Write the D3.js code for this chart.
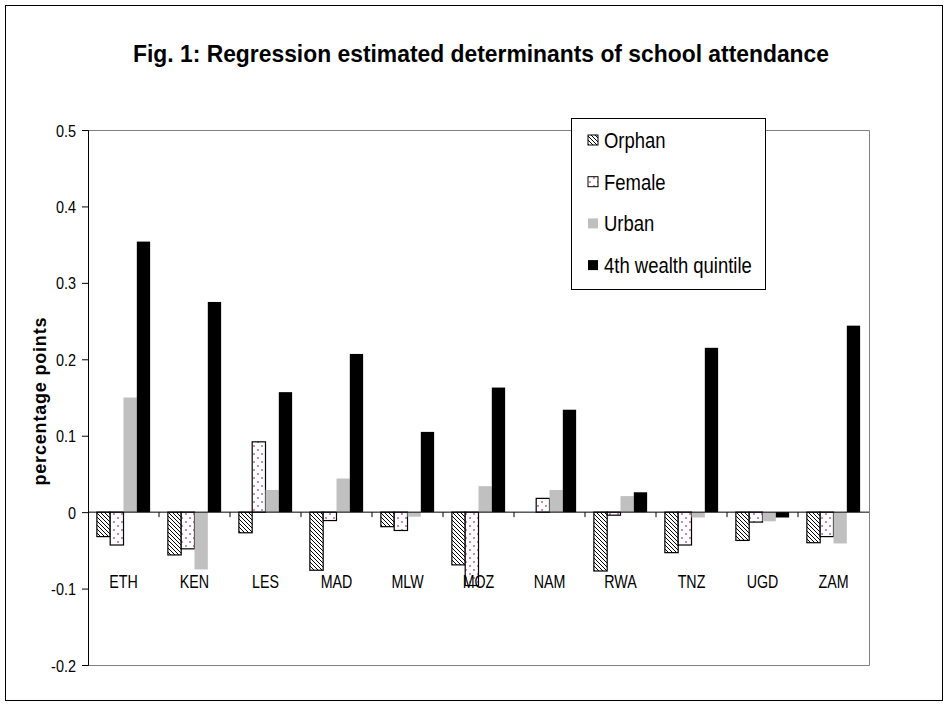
<!DOCTYPE html>
<html><head><meta charset="utf-8">
<script src="https://cdn.jsdelivr.net/npm/d3@7"></script>
<style>body{margin:0;background:#fff;} text{font-family:"Liberation Sans",Arial,sans-serif;}</style>
</head><body>
<svg id="chart" width="948" height="707"></svg>
<script>
const categories = ["ETH","KEN","LES","MAD","MLW","MOZ","NAM","RWA","TNZ","UGD","ZAM"];
const seriesNames = ["Orphan","Female","Urban","4th wealth quintile"];
const orphan = [-0.032,-0.056,-0.027,-0.076,-0.019,-0.069,0.0,-0.077,-0.053,-0.037,-0.040];
const female = [-0.043,-0.048,0.092,-0.011,-0.024,-0.096,0.018,-0.004,-0.043,-0.013,-0.032];
const urban  = [0.150,-0.075,0.029,0.044,-0.006,0.034,0.029,0.021,-0.007,-0.012,-0.041];
const wealth = [0.354,0.275,0.157,0.207,0.105,0.163,0.134,0.026,0.215,-0.007,0.244];
const yTicks = [0.5,0.4,0.3,0.2,0.1,0,-0.1,-0.2];
const yTickLabels = ["0.5","0.4","0.3","0.2","0.1","0","-0.1","-0.2"];
const title = "Fig. 1: Regression estimated determinants of school attendance";
const yLabel = "percentage points";

const svg = d3.select("#chart");
const L = 88, R = 869, T = 130, B = 665;

const defs = svg.append("defs");
const hatch = defs.append("pattern").attr("id","hatch").attr("patternUnits","userSpaceOnUse")
  .attr("width",4).attr("height",4);
hatch.append("rect").attr("width",4).attr("height",4).attr("fill","#fff");
hatch.append("path").attr("d","M-1,-1 L5,5 M-1,3 L1,5 M3,-1 L5,1").attr("stroke","#000").attr("stroke-width",1);
const dots = defs.append("pattern").attr("id","dots").attr("patternUnits","userSpaceOnUse")
  .attr("width",8).attr("height",8);
dots.append("rect").attr("width",8).attr("height",8).attr("fill","#fff");
dots.append("circle").attr("cx",2).attr("cy",2).attr("r",0.9).attr("fill","#c0508a");
dots.append("circle").attr("cx",6).attr("cy",6).attr("r",0.9).attr("fill","#c0508a");

const styles = [
  {fill:"url(#hatch)", stroke:"#000"},
  {fill:"url(#dots)", stroke:"#000"},
  {fill:"#c0c0c0", stroke:"none"},
  {fill:"#000", stroke:"none"}
];
const seriesData = [orphan, female, urban, wealth];

// outer border
svg.append("rect").attr("x",5.5).attr("y",5.5).attr("width",937).attr("height",695)
  .attr("fill","#fff").attr("stroke","#000").attr("stroke-width",1);

svg.append("text").attr("x",(133+829)/2).attr("y",62).attr("text-anchor","middle")
  .attr("font-size",24).attr("font-weight","bold").attr("textLength",696)
  .attr("lengthAdjust","spacingAndGlyphs").text(title);

const x = d3.scaleBand().domain(categories).range([L,R]).paddingInner(0.25).paddingOuter(0.125);
const xs = d3.scaleBand().domain(seriesNames).range([0,x.bandwidth()]);
const y = d3.scaleLinear().domain([-0.2,0.5]).range([B,T]);

// plot area border (gray)
svg.append("path").attr("d",`M${L},${T+0.5}H${R+0.5}V${B+0.5}H${L}`).attr("fill","none").attr("stroke","#808080");

// bars
seriesData.forEach((vals,si)=>{
  svg.append("g").selectAll("rect").data(categories).join("rect")
    .attr("x",(c)=>x(c)+xs(seriesNames[si]))
    .attr("width",xs.bandwidth())
    .attr("y",(c,i)=>y(Math.max(0,vals[i])))
    .attr("height",(c,i)=>Math.abs(y(vals[i])-y(0)))
    .attr("fill",styles[si].fill)
    .attr("stroke",styles[si].stroke).attr("stroke-width",1.2);
});

// y axis
const yAxis = d3.axisLeft(y).tickValues(yTicks).tickSize(6).tickPadding(6)
  .tickFormat((d,i)=>yTickLabels[i]);
const ga = svg.append("g").attr("transform",`translate(${L},0)`).call(yAxis);
ga.select(".domain").attr("stroke","#000");
ga.selectAll(".tick line").attr("stroke","#000");
ga.selectAll(".tick text").each(function(){
  const t = d3.select(this);
  const xx = +t.attr("x");
  t.attr("x",null).attr("dy",null)
   .attr("transform",`translate(${xx},6) scale(0.85,1)`)
   .attr("font-size",17).attr("font-family","Liberation Sans, Arial").attr("fill","#000");
});

// zero axis with category ticks
const gx = svg.append("g").attr("transform",`translate(0,${y(0)})`);
gx.append("line").attr("x1",L).attr("x2",R).attr("stroke","#000");
const bounds = categories.map((c)=>x(c)-x.step()*x.paddingInner()/2 + x.step());
gx.selectAll("line.tk").data(bounds.slice(0,-1)).join("line").attr("class","tk")
  .attr("x1",d=>d).attr("x2",d=>d).attr("y1",0).attr("y2",5).attr("stroke","#000");
gx.selectAll("text").data(categories).join("text")
  .attr("transform",c=>`translate(${x(c)+x.bandwidth()/2},76) scale(0.75,1)`)
  .attr("text-anchor","middle").attr("font-size",19).text(c=>c);

// y label
svg.append("text").attr("transform",`translate(46,${(T+B)/2 + 4}) rotate(-90)`)
  .attr("text-anchor","middle").attr("font-size",18).attr("font-weight","bold")
  .attr("textLength",168).attr("lengthAdjust","spacing").text(yLabel);

// legend
const lg = svg.append("g");
lg.append("rect").attr("x",571.5).attr("y",118.5).attr("width",194).attr("height",171)
  .attr("fill","#fff").attr("stroke","#000");
seriesNames.forEach((n,i)=>{
  const cy = 140 + i*41.7;
  lg.append("rect").attr("x",588).attr("y",cy-5).attr("width",10).attr("height",10)
    .attr("fill",styles[i].fill).attr("stroke",styles[i].stroke==="none"?"none":"#000");
  lg.append("text").attr("transform",`translate(604,${cy+8}) scale(0.84,1)`)
    .attr("font-size",22).text(n);
});
</script>
</body></html>
